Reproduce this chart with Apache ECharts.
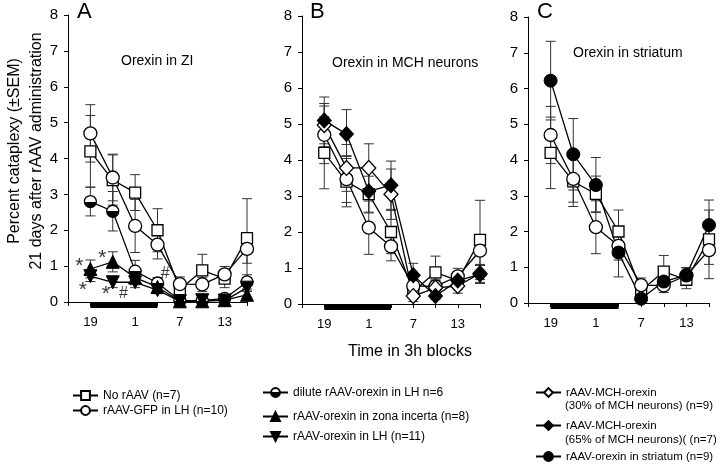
<!DOCTYPE html>
<html><head><meta charset="utf-8">
<script src="https://cdn.jsdelivr.net/npm/echarts@6/dist/echarts.min.js"></script>
<style>html,body{margin:0;padding:0;background:#fff}#c{width:720px;height:464px}</style>
</head><body><div id="c"></div>
<script>
// ---- data ----
const blocks = ['19','22','1','4','7','10','13','16'];
const shownBlocks = ['19','1','7','13'];
const nightBlocks = ['19','4'];
const yTicks = [0,1,2,3,4,5,6,7,8];

const noRaav     = [4.2, 3.4, 3.05, 2.0, 0.35, 0.88, 0.65, 1.78];
const noRaavSem  = [1.0, 0.7, 0.5, 0.6, 0.2, 0.45, 0.25, 1.1];
const gfp        = [4.7, 3.47, 2.12, 1.6, 0.5, 0.49, 0.77, 1.48];
const gfpSem     = [0.8, 0.65, 0.74, 0.4, 0.2, 0.2, 0.22, 0.4];
const dilute     = [2.8, 2.53, 0.86, 0.53, 0.04, 0.04, 0.1, 0.56];
const diluteSem  = [0.4, 0.55, 0.3, 0.15, 0.05, 0.05, 0.05, 0.2];
const zona       = [0.92, 1.12, 0.68, 0.42, 0.02, 0.02, 0.05, 0.2];
const zonaSem    = [0.25, 0.28, 0.2, 0.1, 0.03, 0.03, 0.03, 0.1];
const lhOrexin   = [0.72, 0.55, 0.55, 0.33, 0.02, 0.05, 0.04, 0.4];
const lhOrexinSem= [0.15, 0.15, 0.15, 0.1, 0.03, 0.03, 0.03, 0.1];
const mch30      = [4.97, 3.78, 3.78, 3.05, 0.22, 0.45, 0.5, 0.85];
const mch30Sem   = [0.6, 0.65, 0.67, 0.7, 0.15, 0.2, 0.2, 0.25];
const mch65      = [5.1, 4.72, 3.13, 3.3, 0.8, 0.22, 0.65, 0.82];
const mch65Sem   = [0.65, 0.68, 0.6, 0.67, 0.33, 0.1, 0.2, 0.25];
const striatum   = [6.22, 4.16, 3.3, 1.41, 0.12, 0.6, 0.78, 2.18];
const striatumSem= [1.1, 1.0, 0.77, 0.68, 0.1, 0.2, 0.2, 0.42];

const names = {
  noRaav: 'No rAAV (n=7)',
  gfp: 'rAAV-GFP in LH (n=10)',
  dilute: 'dilute rAAV-orexin in LH n=6',
  zona: 'rAAV-orexin in zona incerta (n=8)',
  lh: 'rAAV-orexin in LH (n=11)',
  mch30: 'rAAV-MCH-orexin\n(30% of MCH neurons) (n=9)',
  mch65: 'rAAV-MCH-orexin\n(65% of MCH neurons)( (n=7)',
  stri: 'rAAV-orexin in striatum (n=9)'
};
const panelLetters = ['A','B','C'];
const panelTitles = ['Orexin in ZI','Orexin in MCH neurons','Orexin in striatum'];
const annotations = [[0.51,1.15,'*'],[1.53,1.37,'*'],[0.66,0.47,'*'],[1.69,0.35,'*'],[2.48,0.24,'#'],[4.34,0.8,'#']];

// ---- styles ----
const FONT = '"Liberation Sans", Arial, sans-serif';
const white = {color:'#fff', borderColor:'#000', borderWidth:1.3};
const black = {color:'#000', borderColor:'#000', borderWidth:1};
const half = {color:{type:'linear',x:0,y:0,x2:0,y2:1,colorStops:[
  {offset:0,color:'#fff'},{offset:0.5,color:'#fff'},{offset:0.5,color:'#000'},{offset:1,color:'#000'}]},
  borderColor:'#000', borderWidth:1.3};
const sty = {
  noRaav:{symbol:'rect', symbolSize:11, itemStyle:white},
  gfp:{symbol:'circle', symbolSize:13, itemStyle:white},
  dilute:{symbol:'circle', symbolSize:12, itemStyle:half},
  zona:{symbol:'triangle', symbolSize:13, itemStyle:black},
  lh:{symbol:'triangle', symbolRotate:180, symbolSize:13, itemStyle:black},
  mch30:{symbol:'diamond', symbolSize:[14,15], itemStyle:white},
  mch65:{symbol:'diamond', symbolSize:[14,15], itemStyle:black},
  stri:{symbol:'circle', symbolSize:13, itemStyle:black}
};

const grids = [
  {left:68, top:15, width:179, height:287},
  {left:302, top:16, width:178, height:288},
  {left:528, top:17, width:181, height:286}
];

function pos(i){ return i+1; }

function lineSeries(key, vals, gi){
  return Object.assign({type:'line', name:names[key], xAxisIndex:gi, yAxisIndex:gi,
    data: vals.map((v,i)=>[pos(i), v]), lineStyle:{color:'#000', width:1.3},
    showAllSymbol:true, z:3, silent:true}, sty[key]);
}
function errSeries(vals, sems, gi){
  return {type:'custom', xAxisIndex:gi, yAxisIndex:gi, silent:true, z:2,
    data: vals.map((v,i)=>[pos(i), Math.max(0, v-sems[i]), v+sems[i]]),
    encode:{x:0, y:[1,2]},
    renderItem(params, api){
      const x = api.value(0);
      const lo = api.coord([x, api.value(1)]);
      const hi = api.coord([x, api.value(2)]);
      const w = 5, st = {stroke:'#333', lineWidth:1};
      return {type:'group', children:[
        {type:'line', shape:{x1:lo[0],y1:lo[1],x2:hi[0],y2:hi[1]}, style:st},
        {type:'line', shape:{x1:lo[0]-w,y1:lo[1],x2:lo[0]+w,y2:lo[1]}, style:st},
        {type:'line', shape:{x1:hi[0]-w,y1:hi[1],x2:hi[0]+w,y2:hi[1]}, style:st}
      ]};
    }};
}
function nightSeries(gi){
  return {type:'line', xAxisIndex:gi, yAxisIndex:gi, silent:true, clip:false, symbol:'none', z:1,
    data: nightBlocks.map(b=>[pos(blocks.indexOf(b)), -0.1]),
    lineStyle:{color:'#000', width:5, cap:'butt'}};
}

const series = [];
const panels = [
  [['noRaav',noRaav,noRaavSem],['gfp',gfp,gfpSem],['dilute',dilute,diluteSem],['zona',zona,zonaSem],['lh',lhOrexin,lhOrexinSem]],
  [['noRaav',noRaav,noRaavSem],['gfp',gfp,gfpSem],['mch30',mch30,mch30Sem],['mch65',mch65,mch65Sem]],
  [['noRaav',noRaav,noRaavSem],['gfp',gfp,gfpSem],['stri',striatum,striatumSem]]
];
panels.forEach((list, gi)=>{
  series.push(nightSeries(gi));
  list.forEach(([k,v,s])=>{ series.push(errSeries(v,s,gi)); });
  list.forEach(([k,v,s])=>{ series.push(lineSeries(k,v,gi)); });
});
series.push({type:'scatter', xAxisIndex:0, yAxisIndex:0, silent:true, symbolSize:1, z:5,
  itemStyle:{color:'rgba(0,0,0,0)'},
  data: annotations.map(a=>({value:a, label:{offset:[0, a[2]==='*'?5:0], fontSize:a[2]==='*'?21:16}})),
  label:{show:true, position:'inside', color:'#000', fontFamily:FONT, formatter:p=>p.value[2]}});

const xAxes = grids.map((g,gi)=>({gridIndex:gi, type:'value', min:0, max:blocks.length, interval:1,
  axisLine:{lineStyle:{color:'#000', width:1}}, axisTick:{length:4, lineStyle:{color:'#000'}},
  splitLine:{show:false},
  axisLabel:{margin:14, color:'#000', fontSize:13, fontFamily:FONT,
    formatter:v=>{const b = blocks[v-1]; return shownBlocks.includes(b) ? b : '';}}}));
const yAxes = grids.map((g,gi)=>({gridIndex:gi, type:'value', min:yTicks[0], max:yTicks[yTicks.length-1], interval:1,
  axisLine:{show:true, lineStyle:{color:'#000', width:1}}, axisTick:{show:true, length:4, lineStyle:{color:'#000'}},
  splitLine:{show:false},
  axisLabel:{margin:10, color:'#000', fontSize:15, fontFamily:FONT}}));

const legendPos = [
  ['noRaav',72,395,12],['gfp',72,410,12],
  ['dilute',262,392,12],['zona',262,416,12],['lh',262,436,12],
  ['mch30',535,392,11.5],['mch65',535,425,11.5],['stri',535,456,11.5]
];
const legends = legendPos.map(([k,l,c,fs])=>({data:[names[k]], left:l, top:c-5.5, orient:'vertical',
  itemWidth:25, itemHeight:11, selectedMode:false, padding:0,
  formatter:n=>n.split('\n')[0],
  textStyle:{fontSize:fs, color:'#000', fontFamily:FONT}}));

const graphics = [];
const letterX = [77, 310, 537];
panelLetters.forEach((t,i)=>graphics.push({type:'text', x:letterX[i], y:12, style:{text:t, fill:'#000', font:'22px '+FONT, verticalAlign:'middle'}}));
const titlePos = [[121,61],[332,63],[573,53]];
panelTitles.forEach((t,i)=>graphics.push({type:'text', x:titlePos[i][0], y:titlePos[i][1], style:{text:t, fill:'#000', font:'14px '+FONT, verticalAlign:'middle'}}));
graphics.push({type:'text', x:26, y:151, rotation:Math.PI/2, style:{text:'Percent cataplexy (±SEM)\n21 days after rAAV administration', fill:'#000', font:'16px '+FONT, align:'center', verticalAlign:'middle', lineHeight:22}});
graphics.push({type:'text', x:348, y:352, style:{text:'Time in 3h blocks', fill:'#000', font:'16px '+FONT, verticalAlign:'middle'}});
graphics.push({type:'text', x:565, y:406, style:{text:names.mch30.split('\n')[1], fill:'#000', font:'11.5px '+FONT, verticalAlign:'middle'}});
graphics.push({type:'text', x:565, y:440, style:{text:names.mch65.split('\n')[1], fill:'#000', font:'11.5px '+FONT, verticalAlign:'middle'}});

const chart = echarts.init(document.getElementById('c'));
chart.setOption({
  animation:false, backgroundColor:'#fff',
  textStyle:{fontFamily:FONT},
  grid:grids, xAxis:xAxes, yAxis:yAxes, legend:legends, series, graphic:graphics
});
</script></body></html>
